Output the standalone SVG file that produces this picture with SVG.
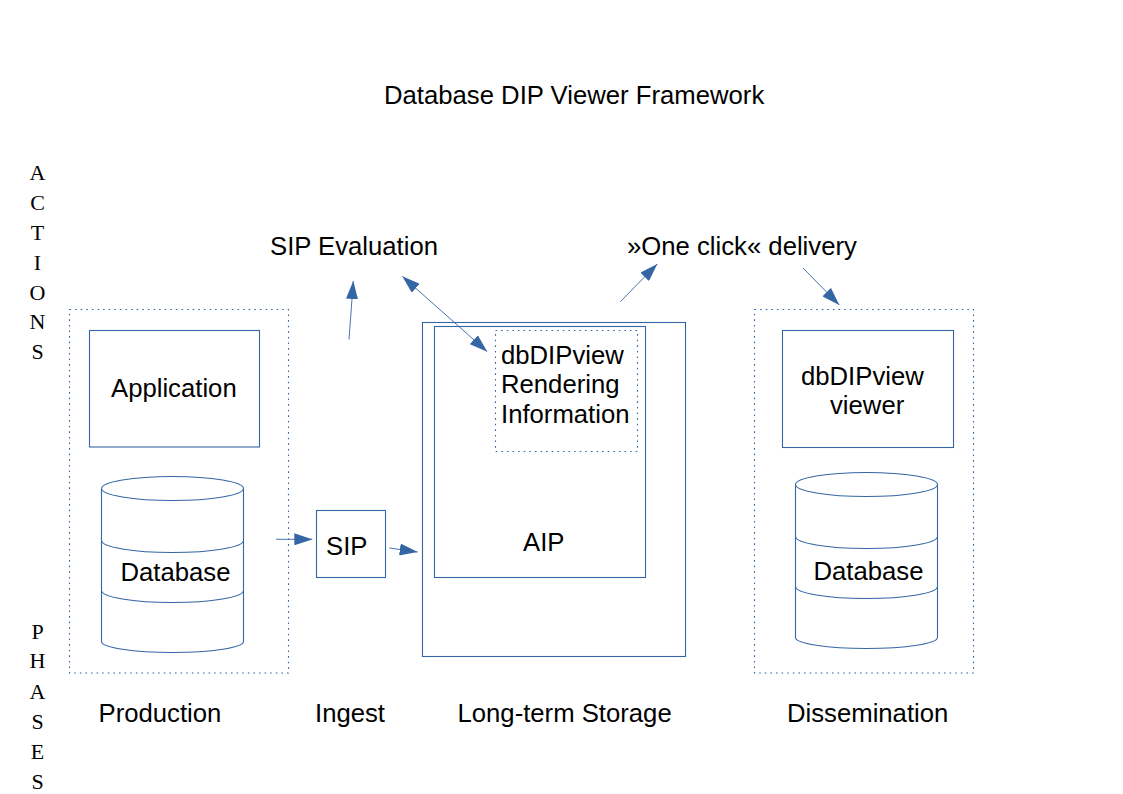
<svg xmlns="http://www.w3.org/2000/svg" width="1123" height="794" viewBox="0 0 1123 794">
<style>
text{font-family:"Liberation Sans",Arial,sans-serif;font-size:25.7px;fill:#000}
.m{font-family:"Liberation Serif","Times New Roman",serif;font-size:22px;text-anchor:middle}
.box,.cyl{fill:none;stroke:#3465a4;stroke-width:1.1}
.dot{fill:none;stroke:#3465a4;stroke-width:1.1;stroke-dasharray:1.6 4}
.con{fill:none;stroke:#3465a4;stroke-width:.9}
.head{fill:#3465a4}
</style>
<defs>
<marker id="end" markerUnits="userSpaceOnUse" viewBox="0 0 18 12" markerWidth="18" markerHeight="12" refX="18" refY="6" orient="auto"><path class="head" d="M0 0L18 6L0 12Z"/></marker>
<marker id="start" markerUnits="userSpaceOnUse" viewBox="0 0 18 12" markerWidth="18" markerHeight="12" refX="0" refY="6" orient="auto"><path class="head" d="M18 0L0 6L18 12Z"/></marker>
<g id="cyl-shape">
<path class="cyl" d="M0 12A71 12 0 0 1 142 12A71 12 0 0 1 0 12V165A71 11 0 0 0 142 165V12"/>
<path class="cyl" d="M0 64A71 12 0 0 0 142 64M0 114A71 12 0 0 0 142 114"/>
</g>
</defs>
<g id="title"><text x="384" y="104">Database DIP Viewer Framework</text></g>
<g id="actions-label">
<text class="m" x="37.500" y="180">A</text><text class="m" x="37.500" y="210">C</text><text class="m" x="37.500" y="240">T</text><text class="m" x="37.500" y="270">I</text><text class="m" x="37.500" y="300">O</text><text class="m" x="37.500" y="329">N</text><text class="m" x="37.500" y="359">S</text>
</g>
<g id="phases-label">
<text class="m" x="37.500" y="639">P</text><text class="m" x="37.500" y="668">H</text><text class="m" x="37.500" y="699">A</text><text class="m" x="37.500" y="729">S</text><text class="m" x="37.500" y="759">E</text><text class="m" x="37.500" y="789">S</text>
</g>
<g id="sip-evaluation"><text x="270" y="255">SIP Evaluation</text></g>
<g id="one-click"><text x="627" y="255">»One click« delivery</text></g>
<g id="production-group">
<rect class="dot" x="69.500" y="309.500" width="219" height="363.500"/>
<text x="98.500" y="722">Production</text>
</g>
<g id="application"><rect class="box" x="89.500" y="330.500" width="170" height="116.500"/><text x="111" y="397">Application</text></g>
<g id="database-production"><use href="#cyl-shape" x="101.500" y="476.500"/><text x="120.500" y="581">Database</text></g>
<g id="sip"><rect class="box" x="316.500" y="510.500" width="69" height="67"/><text x="326" y="555">SIP</text></g>
<g id="ingest-label"><text x="315" y="722">Ingest</text></g>
<g id="storage"><rect class="box" x="422.500" y="322.500" width="263" height="334"/><text x="457.500" y="722">Long-term Storage</text></g>
<g id="aip"><rect class="box" x="434.500" y="326.500" width="211" height="251"/><text x="523" y="551">AIP</text></g>
<g id="rendering-information"><rect class="dot" x="495.500" y="330.500" width="142" height="121"/>
<text x="501" y="364">dbDIPview</text><text x="501" y="393">Rendering</text><text x="501" y="423">Information</text></g>
<g id="dissemination-group"><rect class="dot" x="754.500" y="309.500" width="219" height="363.500"/><text x="787" y="722">Dissemination</text></g>
<g id="viewer"><rect class="box" x="782.500" y="330.500" width="171" height="117"/><text x="801" y="385">dbDIPview</text><text x="830" y="414">viewer</text></g>
<g id="database-dissemination"><use href="#cyl-shape" x="795.500" y="472.500"/><text x="813.500" y="580">Database</text></g>
<g id="connectors">
<path class="con" marker-end="url(#end)" d="M349 339.500L353.300 281"/>
<path class="con" marker-start="url(#start)" marker-end="url(#end)" d="M402.300 276.300L487.300 351.700"/>
<path class="con" marker-end="url(#end)" d="M620.300 301.700L657.300 264"/>
<path class="con" marker-end="url(#end)" d="M803 268L839.300 305"/>
<path class="con" marker-end="url(#end)" d="M276 539.300L312.300 539.300"/>
<path class="con" marker-end="url(#end)" d="M389.300 548L417.700 552"/>
</g>
</svg>
